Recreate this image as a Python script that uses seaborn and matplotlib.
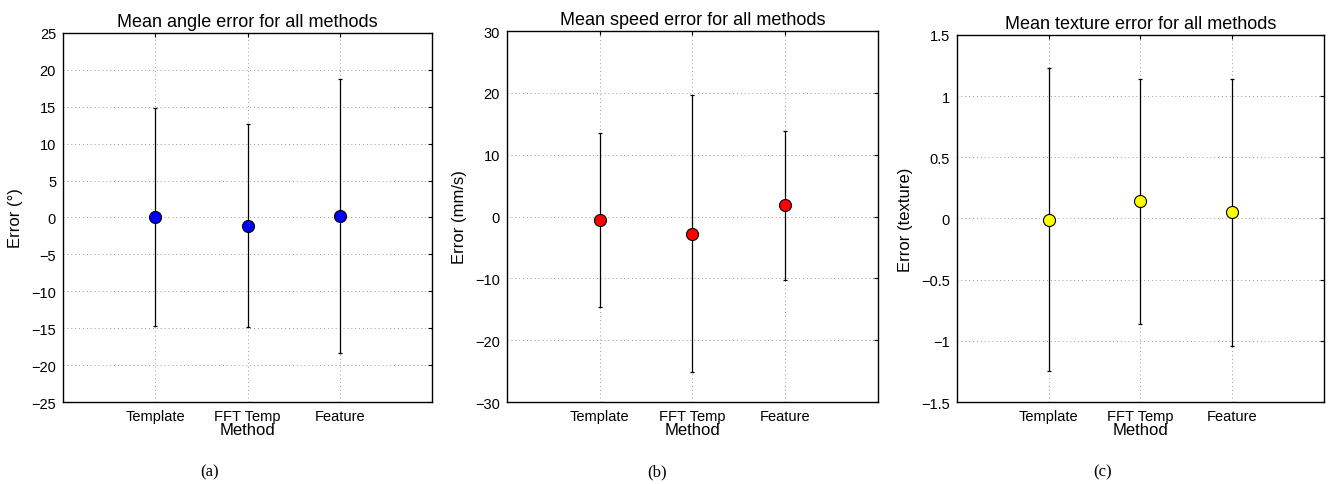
import matplotlib
matplotlib.use("Agg")
import matplotlib.pyplot as plt
import numpy as np
import pandas as pd
import seaborn as sns

# methods on the x axis
methods = ["Template", "FFT Temp", "Feature"]

# angle error (deg): mean and std
angle_mean = [0.1, -1.1, 0.2]
angle_std = [14.8, 13.8, 18.6]

# speed error (mm/s)
speed_mean = [-0.6, -2.8, 1.8]
speed_std = [14.1, 22.4, 12.1]

# texture error
texture_mean = [-0.01, 0.14, 0.05]
texture_std = [1.24, 1.0, 1.09]

sns.set_style("white")
plt.rcParams['font.family'] = ['Liberation Sans', 'DejaVu Sans']
plt.rcParams['text.color'] = 'black'
plt.rcParams['axes.labelcolor'] = 'black'

fig = plt.figure(figsize=(13.33, 4.85), dpi=100)

panels = [
    (angle_mean, angle_std, "Mean angle error for all methods", "Error (°)",
     (-25, 25), np.arange(-25, 26, 5), "blue", [0.0473, 0.169, 0.2768, 0.761], "(a)", 0.1575),
    (speed_mean, speed_std, "Mean speed error for all methods", "Error (mm/s)",
     (-30, 30), np.arange(-30, 31, 10), "red", [0.3803, 0.169, 0.2783, 0.765], "(b)", 0.493),
    (texture_mean, texture_std, "Mean texture error for all methods", "Error (texture)",
     (-1.5, 1.5), np.arange(-1.5, 1.51, 0.5), "yellow", [0.7179, 0.169, 0.2753, 0.757], "(c)", 0.8275),
]


def fmt(v, p):
    if abs(v) < 1e-9:
        return "0"
    return ("%g" % v).replace("-", "\u2212")


for mean, std, title, ylabel, ylim, yticks, color, pos, cap, capx in panels:
    ax = fig.add_axes(pos)
    df = pd.DataFrame({"x": np.arange(1, len(methods) + 1), "mean": mean, "std": std})
    ax.errorbar(df["x"], df["mean"], yerr=df["std"], fmt="none", ecolor="black",
                elinewidth=0.9, capsize=1.5, capthick=0.9, zorder=2)
    sns.scatterplot(data=df, x="x", y="mean", ax=ax, color=color, s=75,
                    edgecolor="black", linewidth=0.8, zorder=3, legend=False)
    ax.set_xlim(0, 4)
    ax.set_ylim(*ylim)
    ax.set_xticks(df["x"])
    ax.set_xticklabels(methods)
    ax.set_yticks(yticks)
    ax.yaxis.set_major_formatter(matplotlib.ticker.FuncFormatter(fmt))
    ax.grid(True, linestyle=(0, (1, 3)), color="0.6", linewidth=0.7)
    ax.tick_params(direction="in", length=3, width=0.8, top=True, right=True,
                   labelsize=10.5, colors="black", pad=5)
    for s in ax.spines.values():
        s.set_color("black")
        s.set_linewidth(1.0)
    ax.set_title(title, fontsize=13, pad=5)
    ax.set_ylabel(ylabel, fontsize=12, labelpad=6)
    ax.set_xlabel("Method", fontsize=12, labelpad=-1)
    fig.text(capx, 0.027, cap, family="Liberation Serif", fontsize=12, ha="center", va="center")

fig.savefig("out.png", dpi=100)
